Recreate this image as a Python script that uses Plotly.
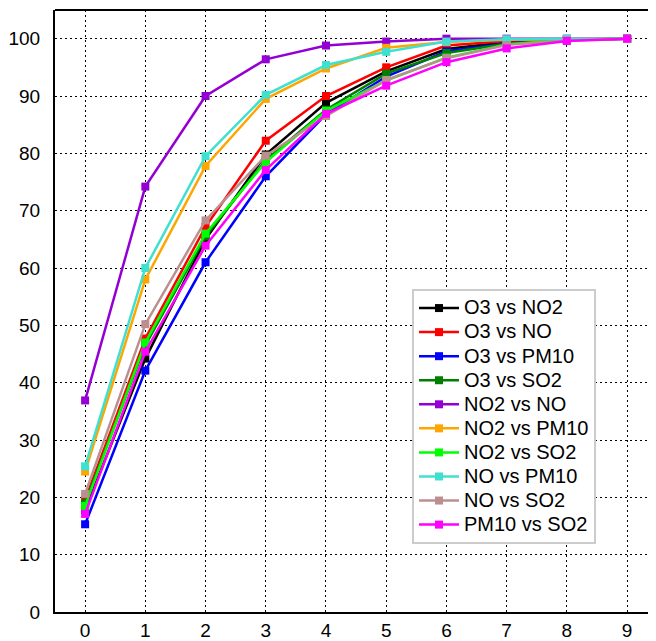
import plotly.graph_objects as go

x_values = [0, 1, 2, 3, 4, 5, 6, 7, 8, 9]

series_names = ["O3 vs NO2", "O3 vs NO", "O3 vs PM10", "O3 vs SO2", "NO2 vs NO",
                "NO2 vs PM10", "NO2 vs SO2", "NO vs PM10", "NO vs SO2", "PM10 vs SO2"]

o3_no2 = [17.8, 44.2, 65.0, 79.8, 88.8, 94.3, 98.2, 99.4, 99.8, 100]
o3_no = [19.6, 47.7, 67.2, 82.2, 90.0, 95.0, 98.8, 99.6, 99.9, 100]
o3_pm10 = [15.3, 42.1, 61.0, 76.0, 86.8, 93.4, 97.8, 99.2, 99.8, 100]
o3_so2 = [19.0, 46.5, 65.5, 78.8, 87.6, 93.9, 97.5, 99.1, 99.8, 100]
no2_no = [36.9, 74.2, 90.0, 96.4, 98.8, 99.5, 100, 100, 100, 100]
no2_pm10 = [24.5, 58.0, 77.8, 89.5, 94.8, 98.4, 99.4, 99.8, 99.9, 100]
no2_so2 = [18.5, 47.0, 66.0, 78.5, 87.4, 92.7, 96.7, 99.0, 99.8, 100]
no_pm10 = [25.4, 60.0, 79.5, 90.2, 95.4, 97.7, 99.5, 99.9, 100, 100]
no_so2 = [20.6, 50.2, 68.3, 79.6, 86.5, 92.8, 96.6, 98.9, 99.7, 100]
pm10_so2 = [17.1, 45.4, 63.9, 77.1, 86.9, 91.8, 95.9, 98.3, 99.6, 100]

series_values = [o3_no2, o3_no, o3_pm10, o3_so2, no2_no,
                 no2_pm10, no2_so2, no_pm10, no_so2, pm10_so2]

colors = ["#000000", "#FF0000", "#0000FF", "#008000", "#9400D3",
          "#FFA500", "#00FF00", "#40E0D0", "#BC8F8F", "#FF00FF"]

y_tick_values = [0, 10, 20, 30, 40, 50, 60, 70, 80, 90, 100]

fig = go.Figure()
for name, vals, col in zip(series_names, series_values, colors):
    fig.add_trace(go.Scatter(
        x=x_values, y=vals, name=f'<span style="font-size:20px">{name}</span>',
        mode="lines+markers",
        line=dict(color=col, width=2.5),
        marker=dict(symbol="square", size=8, color=col),
    ))

fig.update_layout(
    width=648, height=633,
    margin=dict(l=47, r=0, t=2, b=29),
    paper_bgcolor="white", plot_bgcolor="white",
    font=dict(family="Liberation Sans, Arial, sans-serif", size=19, color="black"),
    showlegend=True,
    legend=dict(
        x=0.594, y=0.5365, xanchor="left", yanchor="top",
        bgcolor="white", bordercolor="#CCCCCC", borderwidth=2,
        font=dict(size=16.2),
        itemwidth=40,
    ),
)

fig.update_xaxes(
    range=[-0.5, 9.48], tickmode="array", tickvals=x_values,
    showgrid=True, gridcolor="black", gridwidth=1, griddash="2px,3px",
    showline=True, linecolor="black", linewidth=2,
    zeroline=False, ticks="", ticklen=0,
    tickfont=dict(size=19),
    automargin=False,
)
fig.update_yaxes(
    range=[0, 105], tickmode="array", tickvals=y_tick_values,
    showgrid=True, gridcolor="black", gridwidth=1, griddash="2px,3px",
    showline=True, linecolor="black", linewidth=2,
    zeroline=False, ticks="outside", ticklen=9, tickcolor="rgba(0,0,0,0)",
    tickfont=dict(size=19),
    automargin=False,
)

fig.add_shape(type="line", xref="paper", yref="paper", x0=0, x1=1, y0=1, y1=1,
              line=dict(color="black", width=2))

fig.write_html("out.html")
